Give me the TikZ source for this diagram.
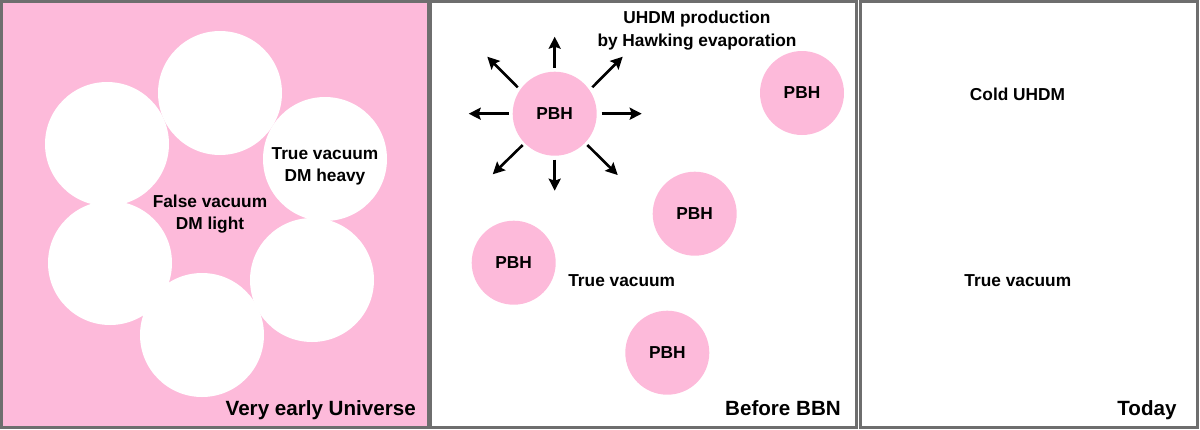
\documentclass[tikz,border=0pt]{standalone}
\usepackage{fontspec}
\setmainfont{Liberation Sans}
\usetikzlibrary{arrows.meta}
\definecolor{pinkbg}{RGB}{253,186,218}
\definecolor{frame}{RGB}{110,110,110}
\tikzset{
  panel/.style={draw=frame, line width=3pt},
  bubble/.style={circle, fill=white, minimum size=124pt, inner sep=0pt},
  pbh/.style={circle, fill=pinkbg, minimum size=84pt, inner sep=0pt, font=\fontsize{17.3}{21}\selectfont\bfseries},
  lbl/.style={align=center, inner sep=0pt, font=\fontsize{17.3}{22.3}\selectfont\bfseries},
  title/.style={anchor=base east, inner sep=0pt, font=\fontsize{20.6}{24}\selectfont\bfseries},
  ray/.style={line width=2.6pt, -{Stealth[length=12pt,width=12pt,inset=2pt]}}
}
\begin{document}
\begin{tikzpicture}[x=1pt,y=-1pt]
\useasboundingbox (0,0) rectangle (1200,429);
% panel 1
\fill[pinkbg] (1.5,1.5) rectangle (428.5,427.5);
\node[bubble] (b1) at (220,93) {};
\node[bubble] (b2) at (107,144) {};
\node[bubble] (b3) at (325,159) {};
\node[bubble] (b4) at (110,263) {};
\node[bubble] (b5) at (202,335) {};
\node[bubble] (b6) at (312,280) {};
\node[lbl] (tv1) at (325,166) {True vacuum\\DM heavy};
\node[lbl] (fv) at (210,214) {False vacuum\\DM light};
\node[title] (t1) at (416,415) {Very early Universe};
\draw[panel] (1.5,1.5) rectangle (428.5,427.5);
% panel 2
\draw[panel] (430,1.5) rectangle (856.5,427.5);
\node[pbh] (p1) at (554.7,113.7) {PBH};
\node[pbh] (p2) at (802,93) {PBH};
\node[pbh] (p3) at (694.7,213.7) {PBH};
\node[pbh] (p4) at (513.7,262.7) {PBH};
\node[pbh] (p5) at (667.3,352.7) {PBH};
\foreach \n/\sx/\sy/\ex/\ey in {u/0/-46/0/-77, d/0/46/0/77, r/47/0/87/0, l/-46/0/-86/0,
    ur/37.6/-26.4/68/-57, ul/-37/-26.4/-67.4/-57, dl/-32/31.3/-62/60.6, dr/32.6/31.3/63/61.3}{
  \coordinate (s\n) at ([shift={(\sx,\sy)}]p1.center);
  \coordinate (e\n) at ([shift={(\ex,\ey)}]p1.center);
  \draw[ray] (s\n) -- (e\n);
}
\node[lbl] (uhdm) at (697,30.5) {UHDM production\\by Hawking evaporation};
\node[lbl] (tv2) at (621.7,281) {True vacuum};
\node[title] (t2) at (841,415) {Before BBN};
% panel 3
\draw[panel] (860,1.5) rectangle (1197,427.5);
\node[lbl] (cold) at (1017.5,94) {Cold UHDM};
\node[lbl] (tv3) at (1017.8,281) {True vacuum};
\node[title] (t3) at (1176.7,415) {Today};
\end{tikzpicture}
\end{document}
